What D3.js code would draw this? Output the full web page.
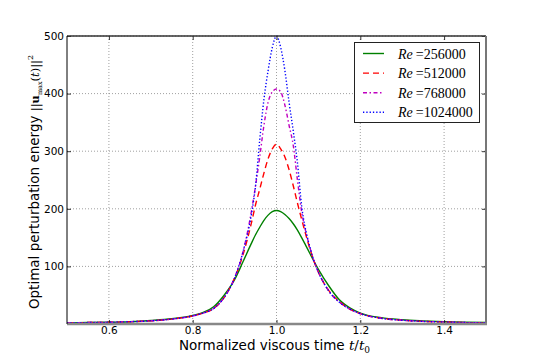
<!DOCTYPE html>
<html>
<head>
<meta charset="utf-8">
<script src="https://cdn.jsdelivr.net/npm/d3@7"></script>
<style>
  html, body { margin: 0; padding: 0; background: #fff; }
  svg { display: block; }
</style>
</head>
<body>
<svg id="chart" width="540" height="360"></svg>
<script>
// ---------- data ----------
const tValues = [0.5,0.55,0.6,0.65,0.7,0.75,0.8,0.825,0.85,0.875,0.9,0.92,0.94,0.95,0.96,0.97,0.98,0.99,1.0,1.01,1.02,1.03,1.04,1.05,1.06,1.07,1.08,1.09,1.1,1.125,1.15,1.175,1.2,1.25,1.3,1.35,1.4,1.45,1.5];
const energyRe256000  = [2,2.5,3,4,6,9,15,20,30,50,77,108,140,155,168,180,189,195,197,195,190,183,174,163,150,136,122,108,95,66,42,28,19,11,7.5,5.5,4,3,2.5];
const energyRe512000  = [2,2.5,3,4,5.5,8.5,14,19,27,46,80,120,175,207,234,262,287,304,312,304,290,268,240,210,182,155,130,108,90,58,39,26,18,10,6.5,4.5,3.5,2.5,2];
const energyRe768000  = [2,2.5,3,4,5.5,8.5,14,19,27,46,80,125,195,240,290,345,385,403,408,403,380,345,310,250,195,160,132,108,90,57,38,26,18,10,6.5,4.5,3.5,2.5,2];
const energyRe1024000 = [2,2.5,3,4,5.5,8.5,14,19,27,46,80,125,190,240,320,390,440,480,500,480,440,385,335,280,205,162,133,108,90,57,38,26,18,10,6.5,4.5,3.5,2.5,2];
const reNumbers = ["256000","512000","768000","1024000"];
const xTickValues = [0.6,0.8,1.0,1.2,1.4];
const xTickLabels = ["0.6","0.8","1.0","1.2","1.4"];
const yTickValues = [100,200,300,400,500];
const yTickLabels = ["100","200","300","400","500"];

// ---------- styles ----------
const seriesData = [energyRe256000, energyRe512000, energyRe768000, energyRe1024000];
const colors = ["#008000","#ff0000","#bf00bf","#0000ff"];
const dashes = [null,"6,4","4,2.5,1.5,2.5","1.3,2"];

const svg = d3.select("#chart");
const mLeft = 67, mRight = 486, mTop = 36, mBottom = 324;

const x = d3.scaleLinear().domain([0.5,1.5]).range([mLeft,mRight]);
const y = d3.scaleLinear().domain([0,500]).range([mBottom,mTop]);

// grid
const grid = svg.append("g");
grid.selectAll("line.gx").data(xTickValues).enter().append("line")
  .attr("x1", d => x(d)).attr("x2", d => x(d)).attr("y1", mTop).attr("y2", mBottom)
  .attr("stroke","#888").attr("stroke-width",0.8).attr("stroke-dasharray","1,2");
grid.selectAll("line.gy").data(yTickValues).enter().append("line")
  .attr("y1", d => y(d)).attr("y2", d => y(d)).attr("x1", mLeft).attr("x2", mRight)
  .attr("stroke","#888").attr("stroke-width",0.8).attr("stroke-dasharray","1,2");

// curves
svg.append("clipPath").attr("id","clip").append("rect")
  .attr("x",mLeft).attr("y",mTop-2).attr("width",mRight-mLeft).attr("height",mBottom-mTop+2);
const line = d3.line().x((d,i) => x(tValues[i])).y(d => y(d)).curve(d3.curveMonotoneX);
const curves = svg.append("g").attr("clip-path","url(#clip)");
seriesData.forEach((s,k) => {
  curves.append("path").datum(s).attr("d", line)
    .attr("fill","none").attr("stroke",colors[k]).attr("stroke-width",1.4)
    .attr("stroke-dasharray", dashes[k]);
});

// axes (ticks inward)
const xAxisB = d3.axisBottom(x).tickValues(xTickValues).tickFormat((d,i)=>xTickLabels[i]).tickSizeInner(-4).tickSizeOuter(0).tickPadding(3);
const xAxisT = d3.axisTop(x).tickValues(xTickValues).tickFormat("").tickSizeInner(-4).tickSizeOuter(0);
const yAxisL = d3.axisLeft(y).tickValues(yTickValues).tickFormat((d,i)=>yTickLabels[i]).tickSizeInner(-4).tickSizeOuter(0).tickPadding(3);
const yAxisR = d3.axisRight(y).tickValues(yTickValues).tickFormat("").tickSizeInner(-4).tickSizeOuter(0);

function styleAxis(g){
  g.select(".domain").remove();
  g.selectAll(".tick line").attr("stroke","#000").attr("stroke-width",0.8);
  g.selectAll(".tick text").attr("font-family","'DejaVu Sans', sans-serif").attr("font-size",10.5).attr("fill","#000");
}
svg.append("g").attr("transform",`translate(0,${mBottom})`).call(xAxisB).call(styleAxis);
svg.append("g").attr("transform",`translate(0,${mTop})`).call(xAxisT).call(styleAxis);
svg.append("g").attr("transform",`translate(${mLeft},0)`).call(yAxisL).call(styleAxis);
svg.append("g").attr("transform",`translate(${mRight},0)`).call(yAxisR).call(styleAxis);

// frame
svg.append("line").attr("x1",mLeft).attr("x2",mRight).attr("y1",mTop).attr("y2",mTop).attr("stroke","#333").attr("stroke-width",1.5);
svg.append("line").attr("x1",mRight).attr("x2",mRight).attr("y1",mTop).attr("y2",mBottom).attr("stroke","#777").attr("stroke-width",2);
svg.append("line").attr("x1",mLeft).attr("x2",mRight+1).attr("y1",mBottom).attr("y2",mBottom).attr("stroke","#888").attr("stroke-width",2.5);
svg.append("line").attr("x1",mLeft).attr("x2",mLeft).attr("y1",mTop).attr("y2",mBottom).attr("stroke","#000").attr("stroke-width",1);

// x label
const xl = svg.append("text").attr("x",(mLeft+mRight)/2 - 2).attr("y",350)
  .attr("text-anchor","middle").attr("font-family","'DejaVu Sans', sans-serif").attr("font-size",13.5).attr("fill","#000");
xl.append("tspan").text("Normalized viscous time ");
xl.append("tspan").attr("font-family","'DejaVu Serif', serif").attr("font-style","italic").text("t");
xl.append("tspan").attr("font-family","'DejaVu Serif', serif").text("/");
xl.append("tspan").attr("font-family","'DejaVu Serif', serif").attr("font-style","italic").text("t");
xl.append("tspan").attr("font-family","'DejaVu Serif', serif").attr("font-size",9).attr("dy",3).text("0");

// y label
const yl = svg.append("text").attr("transform",`translate(39,${(mTop+mBottom)/2 + 2}) rotate(-90)`)
  .attr("text-anchor","middle").attr("font-family","'DejaVu Sans', sans-serif").attr("font-size",13.5).attr("fill","#000");
yl.append("tspan").text("Optimal perturbation energy ");
yl.append("tspan").attr("font-family","'DejaVu Serif', serif").attr("font-size",11.5).text("||");
yl.append("tspan").attr("font-family","'DejaVu Serif', serif").attr("font-size",11.5).attr("font-weight","bold").text("u");
yl.append("tspan").attr("font-family","'DejaVu Serif', serif").attr("font-size",6.5).attr("dy",2.5).text("max");
yl.append("tspan").attr("font-family","'DejaVu Serif', serif").attr("font-size",11.5).attr("dy",-2.5).text("(");
yl.append("tspan").attr("font-family","'DejaVu Serif', serif").attr("font-size",11.5).attr("font-style","italic").text("t");
yl.append("tspan").attr("font-family","'DejaVu Serif', serif").attr("font-size",11.5).text(")||");
yl.append("tspan").attr("font-family","'DejaVu Serif', serif").attr("font-size",8).attr("dy",-6).text("2");

// legend
const lg = svg.append("g");
lg.append("rect").attr("x",354.5).attr("y",42.5).attr("width",125).attr("height",80)
  .attr("fill","#fff").attr("stroke","#222").attr("stroke-width",1);
reNumbers.forEach((r,k) => {
  const yy = 53.5 + k*19.6;
  lg.append("line").attr("x1",363).attr("x2",384).attr("y1",yy).attr("y2",yy)
    .attr("stroke",colors[k]).attr("stroke-width",1.4).attr("stroke-dasharray",dashes[k]);
  const t = lg.append("text").attr("x",398).attr("y",yy+5)
    .attr("font-family","'Liberation Serif', 'DejaVu Serif', serif").attr("font-size",14).attr("fill","#000");
  t.append("tspan").attr("font-style","italic").text("Re");
  t.append("tspan").attr("dx",3).text("=" + r);
});
</script>
</body>
</html>
